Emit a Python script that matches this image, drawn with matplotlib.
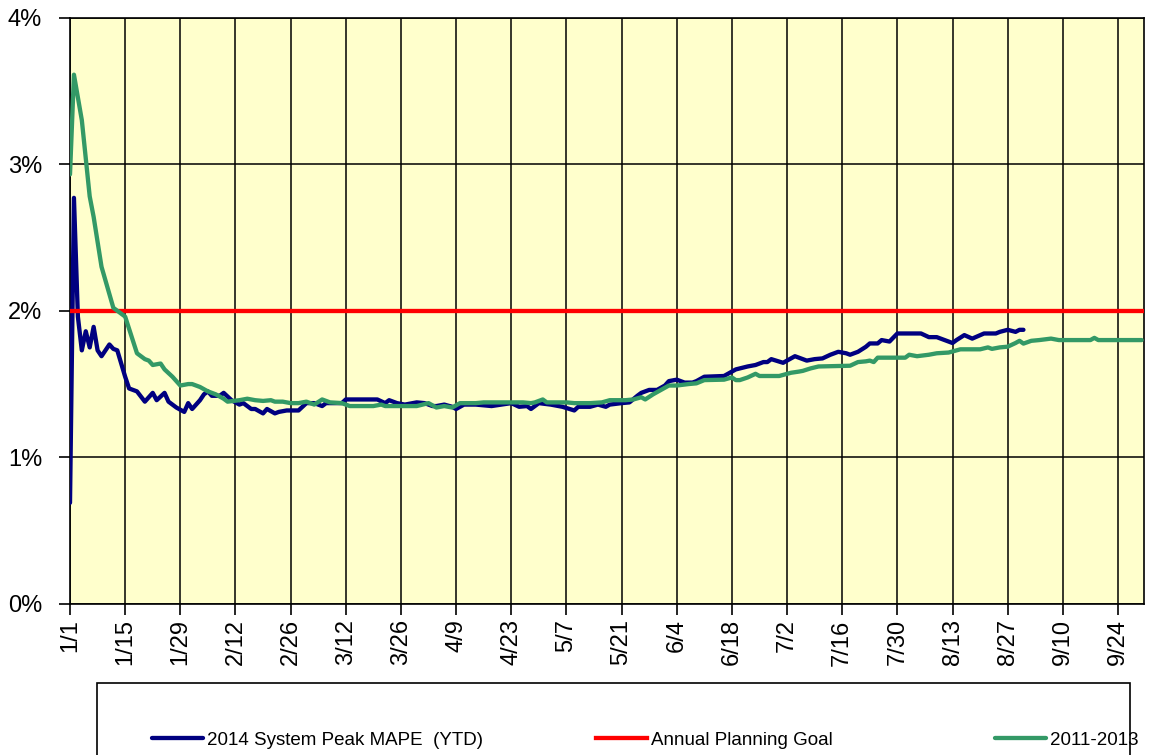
import matplotlib
matplotlib.use("Agg")
import matplotlib.pyplot as plt
from matplotlib.patches import Rectangle
from matplotlib.ticker import PercentFormatter

plt.rcParams['font.family'] = ['Liberation Sans', 'DejaVu Sans']

# day of year (0 = Jan 1) and YTD MAPE in percent
mape_2014_days = [0, 1, 2, 3, 4, 5, 6, 7, 8, 10, 11, 12, 14, 15, 17, 19, 21, 22, 24, 25,
                  27, 29, 30, 31, 33, 34, 35, 36, 38, 39, 41, 43, 44, 46, 47, 49, 50, 52, 53, 55,
                  58, 59, 60, 62, 64, 65, 69, 70, 78, 80, 81, 83, 85, 87, 88, 90, 92, 93, 95, 97,
                  98, 100, 103, 107, 112, 114, 116, 117, 119, 122, 125, 128, 129, 132, 134, 136, 137, 140, 142, 144,
                  145, 147, 149, 151, 152, 154, 156, 158, 159, 161, 166, 168, 169, 172, 174, 176, 177, 178, 181, 184,
                  187, 189, 191, 193, 195, 197, 198, 200, 202, 203, 205, 206, 208, 210, 216, 218, 220, 222, 224, 225,
                  227, 229, 232, 235, 236, 238, 240, 241, 242]
mape_2014 = [0.69, 2.77, 1.96, 1.73, 1.86, 1.75, 1.89, 1.73, 1.69, 1.77, 1.74, 1.73, 1.55, 1.47, 1.45, 1.38, 1.44, 1.39, 1.44, 1.38,
             1.34, 1.31, 1.37, 1.33, 1.39, 1.43, 1.45, 1.42, 1.42, 1.44, 1.39, 1.36, 1.37, 1.33, 1.33, 1.30, 1.33, 1.30, 1.31, 1.32,
             1.32, 1.345, 1.37, 1.37, 1.35, 1.37, 1.37, 1.395, 1.395, 1.37, 1.39, 1.37, 1.36, 1.37, 1.375, 1.37, 1.35, 1.35, 1.36, 1.345,
             1.33, 1.36, 1.36, 1.35, 1.37, 1.345, 1.35, 1.33, 1.37, 1.36, 1.345, 1.32, 1.345, 1.345, 1.36, 1.345, 1.36, 1.37, 1.375, 1.42,
             1.44, 1.46, 1.46, 1.49, 1.52, 1.53, 1.51, 1.51, 1.52, 1.55, 1.555, 1.585, 1.60, 1.62, 1.63, 1.65, 1.65, 1.67, 1.645, 1.69,
             1.66, 1.67, 1.675, 1.70, 1.72, 1.71, 1.70, 1.72, 1.754, 1.777, 1.777, 1.80, 1.79, 1.845, 1.845, 1.82, 1.82, 1.80, 1.78, 1.80,
             1.834, 1.81, 1.845, 1.845, 1.856, 1.87, 1.856, 1.87, 1.87]

hist_days = [0, 1, 3, 5, 6, 8, 11, 14, 17, 19, 20, 21, 23, 24, 26, 28, 30, 31, 33, 35,
             37, 39, 40, 43, 45, 47, 49, 51, 52, 54, 56, 58, 60, 62, 64, 66, 69, 71, 77, 79,
             80, 83, 86, 88, 91, 93, 95, 97, 99, 103, 105, 108, 115, 117, 118, 120, 121, 126, 128, 132,
             135, 137, 141, 143, 145, 146, 148, 150, 152, 154, 157, 159, 161, 166, 168, 169, 170, 172, 174, 175,
             178, 180, 183, 185, 186, 188, 190, 198, 200, 202, 203, 204, 205, 209, 212, 213, 215, 218, 220, 223,
             226, 231, 233, 234, 236, 238, 240, 241, 242, 244, 246, 249, 251, 259, 260, 261, 272]
hist_2011_2013 = [2.93, 3.61, 3.30, 2.78, 2.64, 2.30, 2.02, 1.96, 1.71, 1.67, 1.66, 1.63, 1.64, 1.60, 1.55, 1.49, 1.50, 1.50, 1.48, 1.45,
                  1.43, 1.40, 1.38, 1.39, 1.40, 1.39, 1.385, 1.39, 1.38, 1.38, 1.37, 1.37, 1.38, 1.36, 1.395, 1.375, 1.37, 1.35, 1.35, 1.36,
                  1.35, 1.35, 1.35, 1.35, 1.37, 1.34, 1.35, 1.34, 1.37, 1.37, 1.375, 1.375, 1.375, 1.37, 1.375, 1.395, 1.375, 1.375, 1.37, 1.37,
                  1.375, 1.39, 1.39, 1.395, 1.41, 1.395, 1.43, 1.46, 1.49, 1.49, 1.50, 1.505, 1.527, 1.53, 1.545, 1.527, 1.527, 1.545, 1.57, 1.555,
                  1.555, 1.555, 1.577, 1.585, 1.59, 1.607, 1.62, 1.625, 1.65, 1.655, 1.66, 1.65, 1.68, 1.68, 1.68, 1.70, 1.69, 1.70, 1.71, 1.715,
                  1.737, 1.737, 1.75, 1.74, 1.75, 1.755, 1.78, 1.795, 1.776, 1.795, 1.80, 1.81, 1.80, 1.80, 1.815, 1.80, 1.80]

planning_goal = 2.0

tick_days = [0, 14, 28, 42, 56, 70, 84, 98, 112, 126, 140, 154, 168, 182, 196, 210, 224, 238, 252, 266]
tick_labels = ['1/1', '1/15', '1/29', '2/12', '2/26', '3/12', '3/26', '4/9', '4/23', '5/7',
               '5/21', '6/4', '6/18', '7/2', '7/16', '7/30', '8/13', '8/27', '9/10', '9/24']

series_labels = ['2014 System Peak MAPE  (YTD)', 'Annual Planning Goal', '2011-2013']
series_colors = ['#000080', '#FF0000', '#339966']

W, H = 1150, 755
fig = plt.figure(figsize=(W / 100, H / 100), dpi=100)
ax = fig.add_axes([70 / W, 1 - 604 / H, (1144 - 70) / W, (604 - 17.5) / H])
ax.set_facecolor('#FFFFCC')

lw = 3.1
blue, = ax.plot(mape_2014_days, mape_2014, color=series_colors[0], lw=lw,
                solid_joinstyle='round', solid_capstyle='round', zorder=3)
red = ax.axhline(planning_goal, color=series_colors[1], lw=lw, zorder=4)
green, = ax.plot(hist_days, hist_2011_2013, color=series_colors[2], lw=lw,
                 solid_joinstyle='round', solid_capstyle='round', zorder=5)

ax.set_xlim(0, 272.6)
ax.set_ylim(0, 4)
ax.set_xticks(tick_days)
ax.set_xticklabels(tick_labels, rotation=90, fontsize=17)
ax.set_yticks([0, 1, 2, 3, 4])
ax.yaxis.set_major_formatter(PercentFormatter(xmax=100, decimals=0))
ax.tick_params(axis='y', labelsize=17, length=8, width=1.2, pad=12)
ax.tick_params(axis='x', length=8, width=1.2, pad=3)
ax.grid(True, color='black', lw=1.1)
ax.set_axisbelow(True)
for s in ax.spines.values():
    s.set_linewidth(1.2)

# legend strip along the bottom edge
fig.add_artist(Rectangle((97 / W, -0.02), (1130 - 97) / W, (755 - 683) / H + 0.02,
                         transform=fig.transFigure, fill=False, ec='black', lw=1.2))
entry_x = [152, 596, 995]
for h, lab, x in zip([blue, red, green], series_labels, entry_x):
    fig.legend(handles=[h], labels=[lab], loc='center left',
               bbox_to_anchor=(x / W, 15 / H), frameon=False, fontsize=13.5,
               borderpad=0, borderaxespad=0, handlelength=2.7, handletextpad=0.25)

fig.savefig('out.png', dpi=100)
